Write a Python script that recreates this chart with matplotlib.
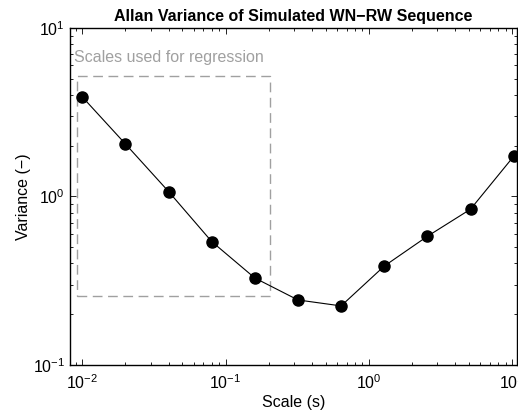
import numpy as np
import matplotlib
matplotlib.use("Agg")
import matplotlib.pyplot as plt
from matplotlib.patches import Rectangle

plt.rcParams['font.family'] = ['Liberation Sans', 'DejaVu Sans']

# scales (s) and Allan variance values
scales = [0.01, 0.02, 0.04, 0.08, 0.16, 0.32, 0.64, 1.28, 2.56, 5.12, 10.24]
variance = [3.9, 2.05, 1.07, 0.54, 0.328, 0.243, 0.224, 0.386, 0.58, 0.84, 1.73]

# regression box extent
box_x = [0.0092, 0.203]
box_y = [0.257, 5.2]

fig = plt.figure(figsize=(5.18, 4.18), dpi=100)
ax = fig.add_axes([0.135, 0.127, 0.863, 0.806])

ax.plot(scales, variance, color='black', lw=0.8, marker='o', ms=8,
        markerfacecolor='black', markeredgecolor='black')

ax.add_patch(Rectangle((box_x[0], box_y[0]), box_x[1] - box_x[0], box_y[1] - box_y[0],
                       fill=False, edgecolor='#a0a0a0', lw=1.0, ls=(0, (7, 4))))
ax.text(0.0087, 6.7, 'Scales used for regression',
        color='#a0a0a0', fontsize=11.5, ha='left', va='center')

ax.set_xscale('log')
ax.set_yscale('log')
ax.set_xlim(0.0082, 10.8)
ax.set_ylim(0.1, 10)
ax.set_xticks([0.01, 0.1, 1, 10])
ax.set_yticks([0.1, 1, 10])

ax.tick_params(which='both', direction='in', top=True, right=True, labelsize=11.5)
ax.tick_params(which='major', length=4, width=0.6)
ax.tick_params(axis='x', which='major', pad=6)
ax.tick_params(which='minor', length=2, width=0.6)
for s in ax.spines.values():
    s.set_linewidth(1.0)

ax.set_xlabel('Scale (s)', fontsize=11.5, labelpad=2)
ax.set_ylabel('Variance (\u2212)', fontsize=11.5, labelpad=1)
ax.set_title('Allan Variance of Simulated WN\u2212RW Sequence', fontsize=11.5,
             fontweight='bold', pad=5)

fig.savefig('out.png', dpi=100)
